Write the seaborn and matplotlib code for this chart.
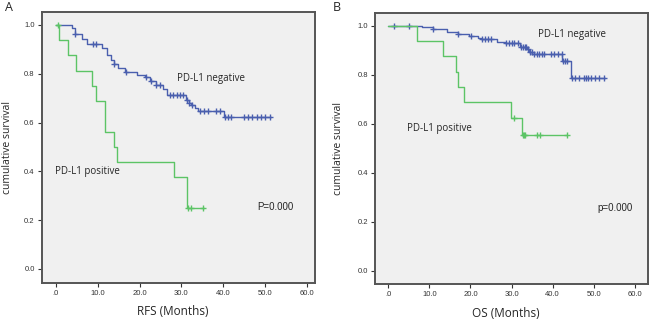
import numpy as np
import matplotlib
matplotlib.use("Agg")
import matplotlib.pyplot as plt
import seaborn as sns
import pandas as pd

# Panel A (RFS) - step times and survival level after each step
rfs_neg_t = [0, 3.8, 4.7, 6.3, 7.5, 11.0, 12.3, 13.2, 13.8, 14.8, 16.5, 19.3, 21.3, 22.6,
             24.0, 25.5, 26.6, 31.1, 31.8, 32.3, 33.3, 34.0, 40.2]
rfs_neg_s = [1.0, 0.986, 0.963, 0.941, 0.921, 0.904, 0.877, 0.857, 0.839, 0.822, 0.806, 0.797,
             0.788, 0.770, 0.754, 0.738, 0.713, 0.693, 0.682, 0.672, 0.659, 0.649, 0.622]
rfs_neg_end = 51.4
rfs_neg_cens = [4.7, 9.0, 9.5, 13.8, 16.8, 21.6, 22.8, 24.0, 24.8, 27.3, 28.0, 28.9, 29.7, 30.4,
                31.3, 31.9, 32.5, 34.4, 35.4, 36.3, 38.2, 39.2, 40.4, 41.1, 41.8, 45.0, 46.0,
                47.0, 48.0, 49.0, 50.0, 51.2]

rfs_pos_t = [0, 0.8, 2.8, 4.8, 8.6, 9.7, 11.8, 13.9, 14.6, 28.3, 31.3]
rfs_pos_s = [1.0, 0.9375, 0.875, 0.8125, 0.75, 0.6875, 0.5625, 0.5, 0.4375, 0.375, 0.25]
rfs_pos_end = 35.4
rfs_pos_cens = [0.4, 31.6, 32.3, 35.2]

# Panel B (OS)
os_neg_t = [0, 8.1, 11.0, 14.4, 17.0, 19.6, 21.9, 22.5, 26.4, 28.4, 32.0, 33.8, 34.3, 35.0,
            42.3, 44.4]
os_neg_s = [1.0, 0.993, 0.987, 0.976, 0.966, 0.958, 0.951, 0.944, 0.935, 0.928, 0.914, 0.904,
            0.891, 0.883, 0.856, 0.788]
os_neg_end = 52.7
os_neg_cens = [1.4, 5.0, 11.0, 17.0, 20.2, 22.7, 23.5, 24.3, 24.9, 28.6, 29.4, 30.0, 30.7,
               31.5, 32.4, 32.8, 33.2, 33.6, 34.0, 34.6, 34.9, 35.5, 36.1, 36.7, 37.3, 37.9,
               39.6, 40.4, 41.4, 42.2, 42.6, 43.0, 43.6, 44.6, 45.4, 46.4, 47.5, 48.1, 48.7,
               49.3, 50.3, 51.3, 52.6]

os_pos_t = [0, 7.05, 13.4, 16.6, 17.0, 18.5, 29.8, 32.5]
os_pos_s = [1.0, 0.9375, 0.875, 0.8125, 0.75, 0.6875, 0.625, 0.5556]
os_pos_end = 43.5
os_pos_cens = [30.5, 32.7, 33.0, 33.3, 36.1, 36.9, 43.4]

x_ticks = [0, 10, 20, 30, 40, 50, 60]
x_tick_labels = [".0", "10.0", "20.0", "30.0", "40.0", "50.0", "60.0"]
y_ticks = [0.0, 0.2, 0.4, 0.6, 0.8, 1.0]
y_tick_labels = ["0.0", "0.2", "0.4", "0.6", "0.8", "1.0"]

blue = "#4a5fae"
green = "#5cc466"

sns.set_style("ticks", {"axes.facecolor": "#f0f0f0", "axes.edgecolor": "#555555"})
plt.rcParams['font.family'] = ['Open Sans', 'DejaVu Sans']

fig = plt.figure(figsize=(6.5, 3.19), dpi=100)
ax1 = fig.add_axes([0.064, 0.114, 0.421, 0.849])
ax2 = fig.add_axes([0.577, 0.109, 0.420, 0.851])


def draw_curve(ax, t, s, end, cens, color):
    df = pd.DataFrame({"t": list(t) + [end], "s": list(s) + [s[-1]]})
    sns.lineplot(data=df, x="t", y="s", ax=ax, color=color, lw=1.0,
                 drawstyle="steps-post", estimator=None, sort=False)
    # censor marks sit on the curve
    idx = np.searchsorted(t, cens, side="right") - 1
    cy = np.array(s)[idx]
    ax.plot(cens, cy, ls="none", marker="+", ms=4.5, mew=1.0, color=color)


draw_curve(ax1, rfs_neg_t, rfs_neg_s, rfs_neg_end, rfs_neg_cens, blue)
draw_curve(ax1, rfs_pos_t, rfs_pos_s, rfs_pos_end, rfs_pos_cens, green)
draw_curve(ax2, os_neg_t, os_neg_s, os_neg_end, os_neg_cens, blue)
draw_curve(ax2, os_pos_t, os_pos_s, os_pos_end, os_pos_cens, green)

ax1.set_xlim(-3.4, 62.0)
ax1.set_ylim(-0.056, 1.054)
ax2.set_xlim(-3.2, 63.2)
ax2.set_ylim(-0.055, 1.053)

for ax, xl, ylx in [(ax1, "RFS (Months)", -0.123), (ax2, "OS (Months)", -0.135)]:
    ax.set_xticks(x_ticks)
    ax.set_xticklabels(x_tick_labels, fontsize=5.5, family="Liberation Sans")
    ax.set_yticks(y_ticks)
    ax.set_yticklabels(y_tick_labels, fontsize=5.5, family="Liberation Sans")
    ax.tick_params(length=3, width=0.8, pad=2, colors="#333333")
    ax.set_xlabel(xl, fontsize=8.5, va="center")
    ax.xaxis.set_label_coords(0.48, -0.108)
    ax.set_ylabel("cumulative survival", fontsize=7.5, va="center")
    ax.yaxis.set_label_coords(ylx, 0.5)
    for sp in ax.spines.values():
        sp.set_linewidth(1.4)
        sp.set_visible(True)

ax1.text(28.9, 0.779, "PD-L1 negative", fontsize=7, va="center")
ax1.text(-0.2, 0.40, "PD-L1 positive", fontsize=7, va="center")
ax1.text(48.1, 0.253, "P=0.000", fontsize=7, va="center", family="Liberation Sans")
ax2.text(36.5, 0.965, "PD-L1 negative", fontsize=7, va="center")
ax2.text(4.5, 0.581, "PD-L1 positive", fontsize=7, va="center")
ax2.text(50.9, 0.257, "p=0.000", fontsize=7, va="center", family="Liberation Sans")

fig.text(0.008, 0.978, "A", fontsize=9, va="center")
fig.text(0.512, 0.978, "B", fontsize=9, va="center")

fig.savefig("out.png", dpi=100)
